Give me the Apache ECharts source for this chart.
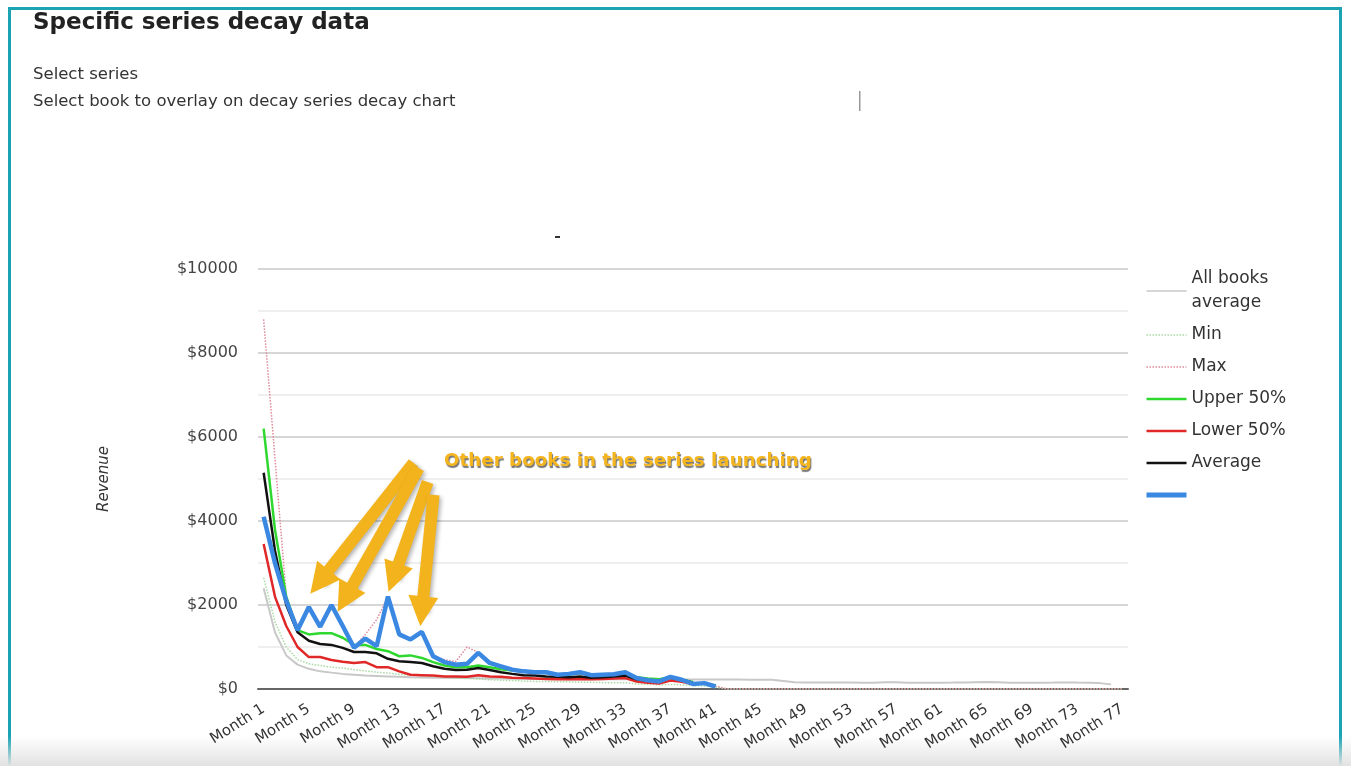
<!DOCTYPE html>
<html>
<head>
<meta charset="utf-8">
<script src="https://cdn.jsdelivr.net/npm/echarts@6/dist/echarts.min.js"></script>
<style>
html,body{margin:0;padding:0;width:1351px;height:766px;overflow:hidden;background:#fff;}
#frame{position:absolute;left:8px;top:7px;width:1328px;height:800px;border:3px solid #1ba3b4;border-bottom:none;}
#fade{position:absolute;left:0;top:736px;width:1351px;height:30px;background:linear-gradient(to bottom,rgba(240,240,240,0),#e2e2e2);}
#chart{position:absolute;left:0;top:0;width:1351px;height:766px;}
</style>
</head>
<body>
<div id="frame"></div>
<div id="fade"></div>
<div id="chart"></div>
<script>
// ---- categories ----
const months = [];
for (let i = 1; i <= 77; i++) months.push('Month ' + i);

// ---- series values ----
const allBooksAvg = [2400,1350,800,580,480,420,390,360,340,320,
  310,300,290,280,275,270,265,260,260,255,
  250,250,245,245,240,240,240,235,235,235,
  230,230,230,230,228,228,226,226,225,225,
  225,224,224,222,222,220,190,160,155,155,
  155,152,152,150,150,158,158,150,150,150,
  150,152,155,160,165,160,150,148,148,150,
  152,155,152,150,140,110];

const minData = [2650,1600,1000,700,600,560,520,500,460,430,
  400,380,350,330,320,300,280,260,250,240,
  220,210,200,190,180,180,170,170,160,160,
  150,150,150,120,110,100,110,100,80,70,
  50,0,0,0,0,0,0,0,0,0,
  0,0,0,0,0,0,0,0,0,0,
  0,0,0,0,0,0,0,0,0,0,
  0,0,0,0,0,0,0];

const maxData = [8800,5500,2200,1500,1950,1500,2000,1500,1000,1300,
  1650,2200,1300,1200,1360,800,700,650,1000,870,
  620,540,470,430,410,400,350,360,410,340,
  350,360,410,270,220,190,300,230,130,150,
  70,0,0,0,0,0,0,0,0,0,
  0,0,0,0,0,0,0,0,0,0,
  0,0,0,0,0,0,0,0,0,0,
  0,0,0,0,0,0,0];

const upper50 = [6200,3800,2200,1400,1300,1330,1330,1220,1050,1050,
  950,900,780,800,740,640,560,520,520,560,
  520,470,440,420,400,380,360,350,380,340,
  330,330,350,280,250,230,280,220,170];

const lower50 = [3450,2200,1500,1000,760,760,690,650,620,640,
  520,520,420,340,330,320,300,300,290,330,
  300,290,270,260,250,240,230,230,240,230,
  240,250,260,180,150,130,200,170,120];

const average = [5150,3300,2000,1350,1150,1070,1050,980,880,880,
  850,720,660,640,620,540,480,450,460,500,
  450,400,360,330,320,300,290,280,300,270,
  280,300,320,230,200,190,270,220,150];

const bookData = [4100,3000,2100,1400,1950,1480,2000,1500,980,1200,
  1020,2200,1300,1180,1360,780,640,580,600,860,
  620,540,460,420,400,400,340,360,400,330,
  340,350,400,260,210,180,290,220,120,140,60];

// y tick values
const yTicks = [0, 2000, 4000, 6000, 8000, 10000];

// annotation arrows in data space: [monthIndex, revenue] tail -> head
const arrowCoords = [
  [[13.27, 5380], [4.95, 2550]],
  [[13.72, 5260], [7.2, 2150]],
  [[14.51, 4930], [11.5, 2650]],
  [[15.04, 4620], [14.0, 1850]]
];
const annotationText = 'Other books in the series launching';

const FONT = '"DejaVu Sans", sans-serif';
const chart = echarts.init(document.getElementById('chart'), null, {renderer: 'canvas'});

function lineSeries(name, data, color, width, type, z) {
  return {
    name: name, type: 'line', data: data, symbol: 'none', showSymbol: false,
    xAxisIndex: 0, yAxisIndex: 0, z: z,
    lineStyle: {color: color, width: width, type: type},
    itemStyle: {color: color},
    emphasis: {disabled: true}
  };
}

const option = {
  animation: false,
  backgroundColor: 'transparent',
  textStyle: {fontFamily: FONT},
  title: {
    text: 'Specific series decay data',
    left: 28, top: 7,
    textStyle: {fontFamily: FONT, fontSize: 23, fontWeight: 'bold', color: '#222'}
  },
  graphic: [
    {type: 'text', left: 33, top: 66, style: {text: 'Select series', font: '16.5px ' + FONT, fill: '#333'}},
    {type: 'text', left: 33, top: 93, style: {text: 'Select book to overlay on decay series decay chart', font: '16.5px ' + FONT, fill: '#333'}},
    {type: 'rect', left: 859, top: 91, shape: {width: 1.5, height: 20}, style: {fill: '#999'}},
    {type: 'rect', left: 555, top: 236, shape: {width: 5, height: 2}, style: {fill: '#333'}},
    {type: 'text', left: 444, top: 452, z: 100,
      style: {text: annotationText, font: 'bold 18.3px ' + FONT, fill: '#f4b51e',
        textShadowColor: 'rgba(70,70,70,0.75)', textShadowBlur: 1, textShadowOffsetX: 1, textShadowOffsetY: 2,
        shadowColor: 'rgba(70,70,70,0.75)', shadowBlur: 1, shadowOffsetX: 1, shadowOffsetY: 2}}
  ],
  legend: {
    orient: 'vertical',
    left: 1139, top: 262,
    itemWidth: 40, itemHeight: 14, itemGap: 8,
    data: [
      {name: 'All books average', lineStyle: {width: 1.5}},
      {name: 'Min', lineStyle: {width: 1.5}},
      {name: 'Max', lineStyle: {width: 1.5}},
      {name: 'Upper 50%', lineStyle: {width: 2.5}},
      {name: 'Lower 50%', lineStyle: {width: 2.5}},
      {name: 'Average', lineStyle: {width: 2.5}},
      {name: ' ', lineStyle: {width: 5}}
    ],
    formatter: function (n) { return n === 'All books average' ? 'All books\naverage' : n; },
    itemStyle: {opacity: 0},
    textStyle: {fontFamily: FONT, fontSize: 17, color: '#333', lineHeight: 24},
    selectedMode: false
  },
  grid: {left: 258, right: 223, top: 269, bottom: 77, containLabel: false},
  xAxis: [
    {
      type: 'category', data: months, boundaryGap: true,
      axisLine: {show: true, lineStyle: {color: '#666', width: 2}},
      axisTick: {show: false},
      splitLine: {show: false},
      axisLabel: {interval: 3, rotate: 32, margin: 19, fontSize: 15, color: '#333', fontFamily: FONT}
    },
    {
      type: 'value', min: -0.5, max: 76.5, show: false, splitLine: {show: false}
    }
  ],
  yAxis: {
    type: 'value', min: 0, max: 10000, interval: 2000,
    name: 'Revenue', nameLocation: 'middle', nameGap: 146, nameRotate: 90,
    nameTextStyle: {fontFamily: FONT, fontSize: 15, fontStyle: 'italic', color: '#333'},
    axisLine: {show: false}, axisTick: {show: false},
    axisLabel: {
      margin: 20, fontSize: 16, color: '#444', fontFamily: FONT,
      formatter: function (v) { return yTicks.indexOf(v) >= 0 ? '$' + v : ''; }
    },
    splitLine: {show: true, lineStyle: {color: '#d6d6d6', width: 2}},
    minorTick: {show: false, splitNumber: 2},
    minorSplitLine: {show: true, lineStyle: {color: '#efefef', width: 2}}
  },
  series: [
    lineSeries('All books average', allBooksAvg, '#c8c8c8', 2, 'solid', 2),
    lineSeries('Min', minData, '#a9d9a3', 1.5, 'dotted', 3),
    lineSeries('Max', maxData, '#e08a9c', 1.5, 'dotted', 4),
    lineSeries('Upper 50%', upper50, '#2fd82f', 2.5, 'solid', 5),
    lineSeries('Lower 50%', lower50, '#e02828', 2.5, 'solid', 6),
    lineSeries('Average', average, '#111111', 2.5, 'solid', 7),
    lineSeries(' ', bookData, '#3a88e2', 4.5, 'solid', 8),
    {
      name: 'arrows', type: 'lines', coordinateSystem: 'cartesian2d',
      xAxisIndex: 1, yAxisIndex: 0, z: 20, polyline: false,
      symbol: ['none', 'triangle'], symbolSize: [34, 30],
      lineStyle: {color: '#f3b31c', width: 12, opacity: 1, curveness: 0,
        shadowColor: 'rgba(0,0,0,0.3)', shadowBlur: 4, shadowOffsetX: 2, shadowOffsetY: 2},
      itemStyle: {color: '#f3b31c'},
      data: arrowCoords.map(function (c) { return {coords: c}; })
    }
  ]
};
chart.setOption(option);
</script>
</body>
</html>
